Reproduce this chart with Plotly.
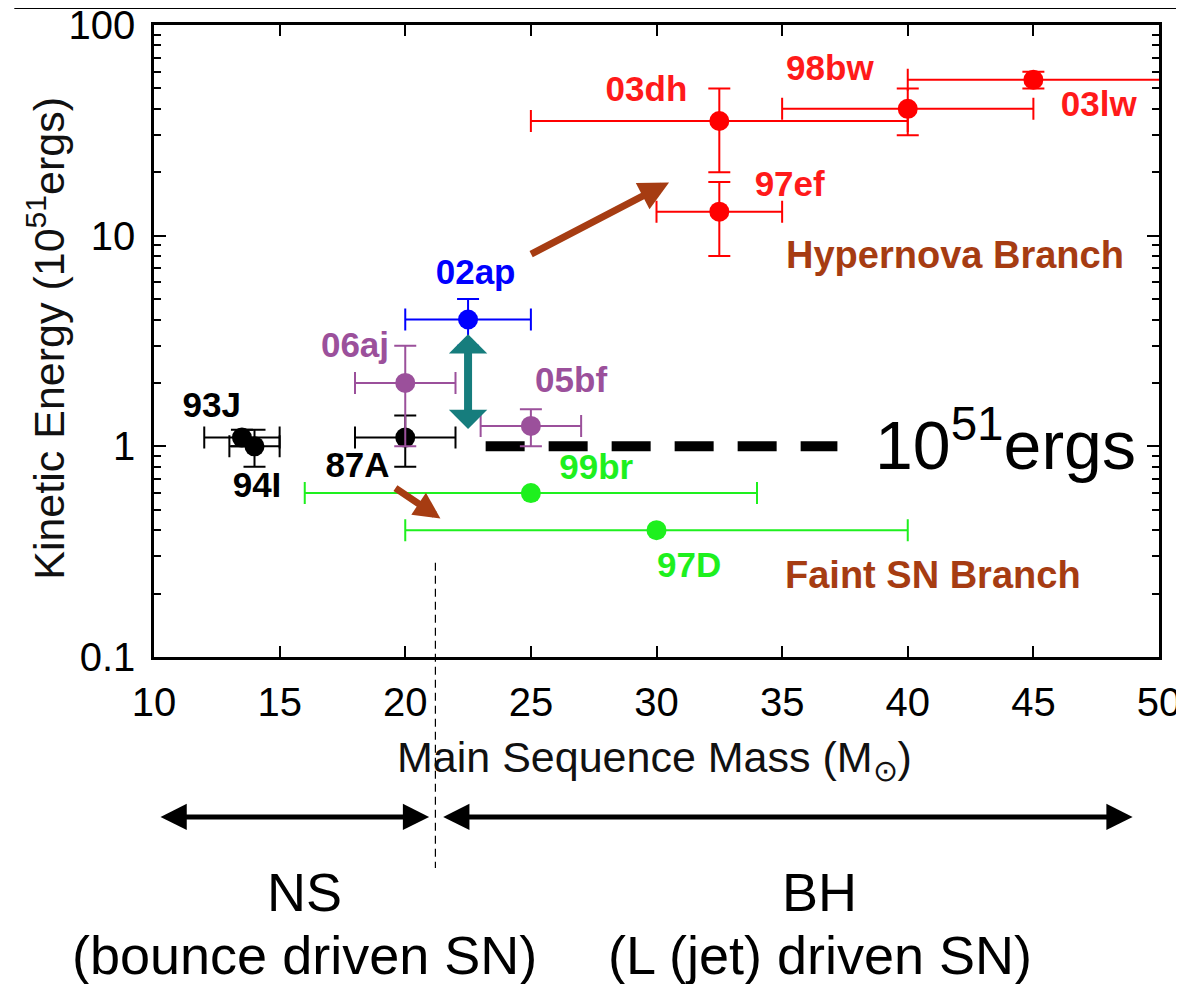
import math
import plotly.graph_objects as go

# ---------------- data ----------------
# Hypernova branch (red)
red_names = ["03dh", "98bw", "03lw", "97ef"]
red_mass = [32.5, 40, 45, 32.5]
red_energy = [35, 40, 55, 13]
red_mass_err_minus = [7.5, 5, 5, 2.5]
red_mass_err_plus = [7.5, 5, 15, 2.5]
red_energy_err = [15, 10, 5, 5]

# 02ap (blue)
blue_mass = [22.5]
blue_energy = [4]
blue_mass_err = [2.5]
blue_energy_err = [1]

# 06aj, 05bf (purple)
purple_mass = [20, 25]
purple_energy = [2, 1.25]
purple_mass_err = [2, 2]
purple_energy_err = [1, 0.25]

# 93J, 94I, 87A (black)
black_mass = [13.5, 14, 20]
black_energy = [1.1, 1.0, 1.1]
black_mass_err = [1.5, 1, 2]
black_energy_err = [0.1, 0.2, 0.3]

# 99br, 97D (green, faint branch)
green_mass = [25, 30]
green_energy = [0.6, 0.4]
green_mass_err = [9, 10]

# 10^51 ergs reference line
ref_mass = [23.2, 37.2]
ref_energy = [1, 1]

# point labels
label_text = ["03dh", "98bw", "03lw", "97ef", "02ap", "06aj", "05bf",
              "93J", "94I", "87A", "99br", "97D"]
label_mass = [29.6, 36.9, 47.6, 35.3, 22.8, 18.0, 26.6, 12.3, 14.1, 18.1, 27.6, 31.3]
label_energy = [48, 60, 40.7, 17, 6.5, 2.92, 2.0, 1.52, 0.63, 0.79, 0.77, 0.263]
label_color = ["#ff1a1a"] * 4 + ["#0000ff"] + ["#9b509b"] * 2 + ["#000000"] * 3 + ["#1ef01e"] * 2

# branch arrows (tail -> head)
hyper_arrow_mass = [24.95, 30.5]
hyper_arrow_energy = [8.1, 17.9]
faint_arrow_mass = [19.55, 21.4]
faint_arrow_energy = [0.64, 0.455]
teal_arrow_mass = [22.5, 22.5]
teal_arrow_energy = [1.19, 3.4]

# remnant division
ns_bh_boundary = 21.2
ns_range = [10.2, 20.95]
bh_range = [21.45, 48.95]

x_ticks = [10, 15, 20, 25, 30, 35, 40, 45, 50]
y_ticks = [0.1, 1, 10, 100]
y_ticktext = ["0.1", "1", "10", "100"]
y_minor = [m * 10 ** e for e in (-1, 0, 1) for m in range(2, 10)]

X_RANGE = [10, 50]
BROWN = "#a63c12"
TEAL = "#167d7d"
FONT = "Liberation Sans, Arial, sans-serif"

fig = go.Figure()


def err_series(x, y, xm, xp, ye, color, sym=True):
    ex = dict(type="data", array=xp, color=color, thickness=2, width=11)
    if not sym:
        ex["symmetric"] = False
        ex["arrayminus"] = xm
    tr = dict(x=x, y=y, mode="markers",
              marker=dict(size=20, color=color),
              error_x=ex, showlegend=False, hoverinfo="skip")
    if ye is not None:
        tr["error_y"] = dict(type="data", array=ye, color=color, thickness=2, width=11)
    fig.add_trace(go.Scatter(**tr))


# reference dashed line
fig.add_trace(go.Scatter(x=ref_mass, y=ref_energy, mode="lines",
                         line=dict(color="black", width=10, dash="39px,24px"),
                         showlegend=False, hoverinfo="skip"))

err_series(green_mass, green_energy, None, green_mass_err, None, "#1ef01e")
err_series(black_mass, black_energy, None, black_mass_err, black_energy_err, "#000000")
err_series(purple_mass, purple_energy, None, purple_mass_err, purple_energy_err, "#9b509b")
err_series(blue_mass, blue_energy, None, blue_mass_err, blue_energy_err, "#0000ff")
err_series(red_mass, red_energy, red_mass_err_minus, red_mass_err_plus, red_energy_err,
           "#ff0000", sym=False)

# labels
fig.add_trace(go.Scatter(x=label_mass, y=label_energy, mode="text", text=label_text,
                         textposition="middle center",
                         textfont=dict(family=FONT, size=35, color=label_color, weight="bold"),
                         cliponaxis=False, showlegend=False, hoverinfo="skip"))

ann = []
# branch texts
ann.append(dict(x=41.9, y=math.log10(8.07), xref="x", yref="y", text="<b>Hypernova Branch</b>",
                xanchor="center", yanchor="middle",
                showarrow=False, font=dict(family=FONT, size=38, color=BROWN)))
ann.append(dict(x=41.0, y=math.log10(0.244), xref="x", yref="y", text="<b>Faint SN Branch</b>",
                xanchor="center", yanchor="middle",
                showarrow=False, font=dict(family=FONT, size=38, color=BROWN)))
ann.append(dict(x=38.6, y=math.log10(1.07), xref="x", yref="y", text="10<sup>51</sup>ergs",
                xanchor="left", yanchor="middle",
                showarrow=False, font=dict(family=FONT, size=68, color="black")))

# arrows
ann.append(dict(x=hyper_arrow_mass[1], y=math.log10(hyper_arrow_energy[1]),
                ax=hyper_arrow_mass[0], ay=math.log10(hyper_arrow_energy[0]),
                xref="x", yref="y", axref="x", ayref="y", text="", showarrow=True,
                arrowhead=2, arrowsize=0.85, arrowwidth=7, arrowcolor=BROWN))
ann.append(dict(x=faint_arrow_mass[1], y=math.log10(faint_arrow_energy[1]),
                ax=faint_arrow_mass[0], ay=math.log10(faint_arrow_energy[0]),
                xref="x", yref="y", axref="x", ayref="y", text="", showarrow=True,
                arrowhead=2, arrowsize=0.75, arrowwidth=7, arrowcolor=BROWN))
ann.append(dict(x=teal_arrow_mass[1], y=math.log10(teal_arrow_energy[1]),
                ax=teal_arrow_mass[0], ay=math.log10(teal_arrow_energy[0]),
                xref="x", yref="y", axref="x", ayref="y", text="", showarrow=True,
                arrowhead=1, arrowside="end+start", arrowsize=0.8, arrowwidth=8,
                arrowcolor=TEAL))

# bottom double arrows
y_arrow = -0.253
for rng in (ns_range, bh_range):
    ann.append(dict(x=rng[1], y=y_arrow, ax=rng[0], ay=0,
                    xref="x", yref="paper", axref="x", ayref="pixel", text="", showarrow=True,
                    arrowhead=2, arrowside="end+start", arrowsize=1.05, arrowwidth=5,
                    arrowcolor="black"))

# bottom texts
for xx, yy, tt in ((16, -0.372, "NS"), (16, -0.4715, "(bounce driven SN)"),
                   (36.5, -0.372, "BH"), (36.5, -0.4715, "(L (jet) driven SN)")):
    ann.append(dict(x=xx, y=yy, xref="x", yref="paper", text=tt, showarrow=False,
                    xanchor="center", yanchor="middle",
                    font=dict(family=FONT, size=54, color="black")))

# axis titles
ann.append(dict(x=-0.1075, y=0.505, xref="paper", yref="paper",
                text="Kinetic Energy (10<sup>51</sup>ergs)", textangle=-90, showarrow=False,
                xanchor="center", yanchor="middle",
                font=dict(family=FONT, size=43, color="#111111")))
ann.append(dict(x=0.4985, y=-0.163, xref="paper", yref="paper",
                text="Main Sequence Mass (M<sub>\u2299</sub>)", showarrow=False,
                xanchor="center", yanchor="middle",
                font=dict(family=FONT, size=43, color="#111111")))

shapes = [
    dict(type="line", xref="x", yref="paper", x0=ns_bh_boundary, x1=ns_bh_boundary,
         y0=0.149, y1=-0.334, line=dict(color="black", width=1.2, dash="8px,5px")),
    dict(type="line", xref="paper", yref="paper", x0=-0.139, x1=1.05, y0=1.0277, y1=1.0277,
         line=dict(color="black", width=3)),
]

# the page body adds an 8px margin; size the figure so the plot area lands in place
fig.update_layout(
    width=1176, height=976,
    margin=dict(l=146, r=25, t=17, b=327),
    paper_bgcolor="white", plot_bgcolor="white",
    font=dict(family=FONT, color="black"),
    annotations=ann, shapes=shapes,
    xaxis=dict(range=X_RANGE, tickvals=x_ticks, ticks="inside", ticklen=11, tickwidth=2,
               tickcolor="black", showline=True, linewidth=2.5, linecolor="black",
               mirror="ticks", showgrid=False, zeroline=False, automargin=False,
               ticklabeloverflow="allow",
               tickfont=dict(size=40, family=FONT), ticklabelstandoff=8),
    yaxis=dict(type="log", range=[-1, 2], tickvals=y_ticks, ticktext=y_ticktext,
               ticks="inside", ticklen=12, tickwidth=2, tickcolor="black",
               minor=dict(ticks="inside", ticklen=7, tickwidth=2, tickcolor="black",
                          tickvals=y_minor),
               showline=True, linewidth=2.5, linecolor="black", mirror="ticks",
               showgrid=False, zeroline=False, automargin=False,
               ticklabeloverflow="allow",
               tickfont=dict(size=40, family=FONT), ticklabelstandoff=8),
)

fig.write_html("out.html")
